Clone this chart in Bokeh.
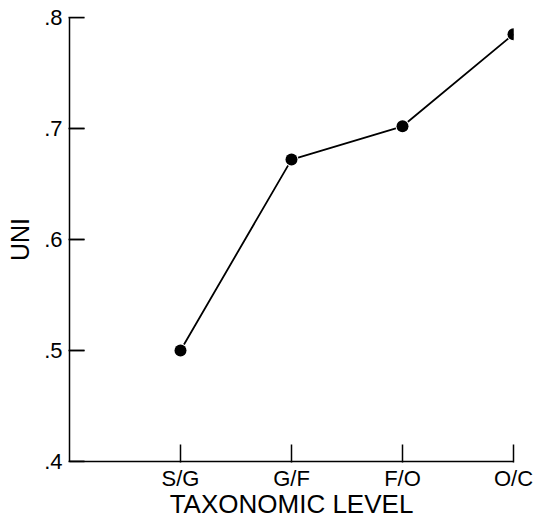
from bokeh.plotting import figure
from bokeh.models import FixedTicker, Range1d
from bokeh.embed import file_html
from bokeh.resources import INLINE

# Data
categories = ["S/G", "G/F", "F/O", "O/C"]
uni_values = [0.500, 0.672, 0.702, 0.785]
y_ticks = [0.4, 0.5, 0.6, 0.7, 0.8]
y_tick_labels = [".4", ".5", ".6", ".7", ".8"]

x_pos = list(range(1, len(categories) + 1))

p = figure(width=541, height=521, output_backend="svg", toolbar_location=None,
           x_range=Range1d(0, len(categories)), y_range=Range1d(0.4, 0.8),
           min_border_left=69, min_border_right=28, min_border_top=17, min_border_bottom=58)
p.outline_line_color = None
p.grid.visible = False
p.background_fill_color = "white"
p.border_fill_color = "white"

FONT = "Liberation Sans"

# x axis
xa = p.xaxis[0]
xa.ticker = FixedTicker(ticks=x_pos)
xa.major_label_overrides = {x: c for x, c in zip(x_pos, categories)}
xa.minor_tick_line_color = None
xa.major_tick_in = 17
xa.major_tick_out = 1
xa.axis_line_width = 1.5
xa.major_tick_line_width = 1.5
xa.axis_line_color = "black"
xa.major_tick_line_color = "black"
xa.major_label_text_font = FONT
xa.major_label_text_font_size = "22px"
xa.major_label_text_color = "black"
xa.major_label_standoff = 3
xa.axis_label = "TAXONOMIC LEVEL"
xa.axis_label_text_font = FONT
xa.axis_label_text_font_style = "normal"
xa.axis_label_text_font_size = "26px"
xa.axis_label_text_color = "black"
xa.axis_label_standoff = -5

# y axis
ya = p.yaxis[0]
ya.ticker = FixedTicker(ticks=y_ticks)
ya.major_label_overrides = {t: l for t, l in zip(y_ticks, y_tick_labels)}
ya.minor_tick_line_color = None
ya.major_tick_in = 15
ya.major_tick_out = 1
ya.axis_line_width = 1.5
ya.major_tick_line_width = 1.5
ya.axis_line_color = "black"
ya.major_tick_line_color = "black"
ya.major_label_text_font = FONT
ya.major_label_text_font_size = "22px"
ya.major_label_text_color = "black"
ya.major_label_standoff = 6
ya.axis_label = "UNI"
ya.axis_label_text_font = FONT
ya.axis_label_text_font_style = "normal"
ya.axis_label_text_font_size = "25px"
ya.axis_label_text_color = "black"
ya.axis_label_standoff = 7

# inward tick marks on the y axis, drawn from the tick values (screen-length rays)
p.ray(x=[0] * len(y_ticks), y=y_ticks, length=15, angle=0, length_units="screen",
      line_color="black", line_width=1.5)

p.line(x_pos, uni_values, line_color="black", line_width=1.8)
p.scatter(x_pos, uni_values, size=12, fill_color="black", line_color="white", line_width=2)
p.scatter(x_pos, uni_values, size=12, fill_color="black", line_color="black", line_width=0)

open("out.html", "w").write(file_html(p, INLINE))
